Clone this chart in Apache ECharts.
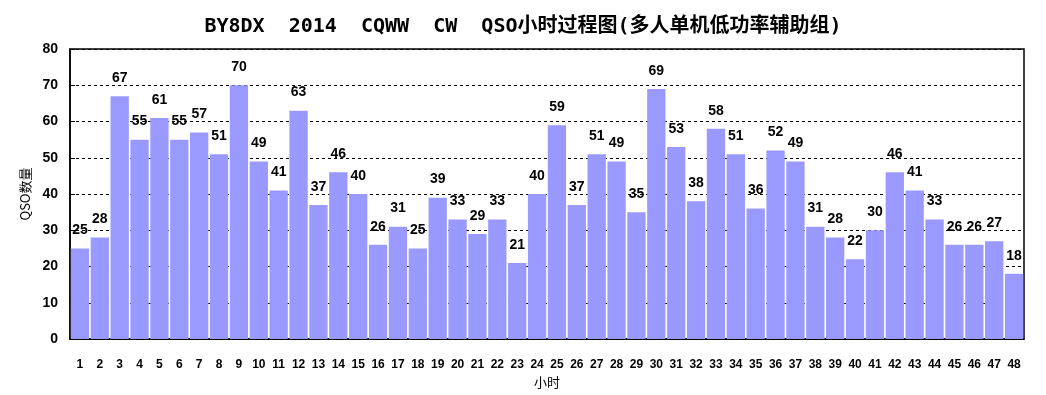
<!DOCTYPE html>
<html><head><meta charset="utf-8">
<script src="https://cdn.jsdelivr.net/npm/echarts@6/dist/echarts.min.js"></script>
<style>html,body{margin:0;padding:0;background:#fff}#c{width:1046px;height:395px}</style>
</head><body><div id="c"></div>
<script>
var hours = [];
for (var i = 1; i <= 48; i++) hours.push(String(i));
var qso = [25,28,67,55,61,55,57,51,70,49,41,63,37,46,40,26,31,25,39,33,29,33,21,40,59,37,51,49,35,69,53,38,58,51,36,52,49,31,28,22,30,46,41,33,26,26,27,18];
var chart = echarts.init(document.getElementById('c'));
chart.setOption({
  animation: false,
  title: {
    text: 'BY8DX  2014  CQWW  CW  QSO小时过程图(多人单机低功率辅助组)',
    left: 'center', top: 12,
    textStyle: {fontFamily: 'DejaVu Sans Mono, Noto Sans CJK SC', fontWeight: 'bold', fontSize: 20, color: '#000'}
  },
  grid: {left: 70, right: 22, top: 49, bottom: 56, show: true, borderColor: '#000', borderWidth: 1.5, outerBoundsMode: 'none', containLabel: false},
  xAxis: {
    type: 'category', data: hours,
    name: '小时', nameLocation: 'middle', nameGap: 37,
    nameTextStyle: {fontFamily: 'Noto Sans CJK SC', fontSize: 13, color: '#000'},
    axisLine: {lineStyle: {color: '#000', width: 1.5}},
    axisTick: {inside: true, length: 5, lineStyle: {color: '#000'}},
    axisLabel: {interval: 0, margin: 20, fontFamily: 'Liberation Sans, Arial', fontWeight: 'bold', fontSize: 12, color: '#000'}
  },
  yAxis: {
    type: 'value', min: 0, max: 80, interval: 10,
    name: 'QSO数量', nameLocation: 'middle', nameGap: 35,
    nameTextStyle: {fontFamily: 'Noto Sans CJK SC', fontSize: 13, color: '#000'},
    axisLine: {show: true, lineStyle: {color: '#000', width: 1.5}},
    axisTick: {show: true, inside: true, length: 5, lineStyle: {color: '#000'}},
    axisLabel: {margin: 12, fontFamily: 'Liberation Sans, Arial', fontWeight: 'bold', fontSize: 14, color: '#000'},
    splitLine: {lineStyle: {color: '#000', type: [3, 3], width: 1}}
  },
  series: [{
    type: 'bar', data: qso, barCategoryGap: '8%',
    itemStyle: {color: '#9999FF'},
    label: {show: true, position: 'top', distance: 11, fontFamily: 'Liberation Sans, Arial', fontWeight: 'bold', fontSize: 14, color: '#000'}
  }]
});
</script></body></html>
